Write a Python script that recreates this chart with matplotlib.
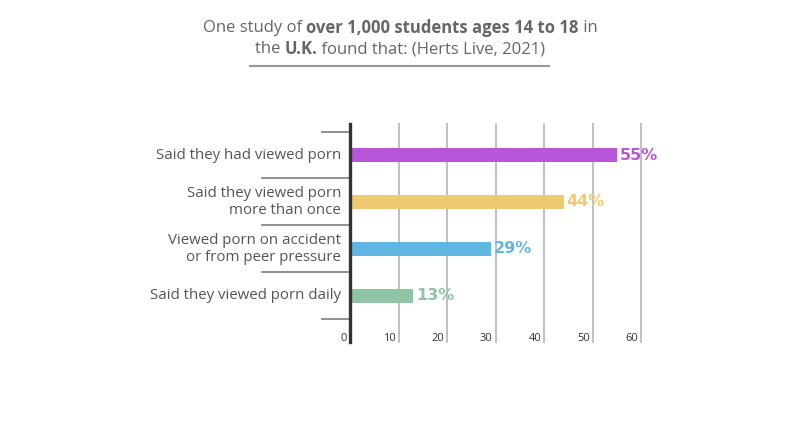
import matplotlib
matplotlib.use('Agg')
import matplotlib.pyplot as plt
import matplotlib.transforms as mtransforms

plt.rcParams['font.family'] = ['Open Sans', 'DejaVu Sans']

# Data
categories = ['Said they had viewed porn',
              'Said they viewed porn\nmore than once',
              'Viewed porn on accident\nor from peer pressure',
              'Said they viewed porn daily']
values = [55, 44, 29, 13]
bar_colors = ['#B955D9', '#F0CA72', '#62B6E2', '#8FC4A5']
x_ticks = [0, 10, 20, 30, 40, 50, 60]

title_lines = [
    [('One study of ', 'normal'), ('over 1,000 students ages 14 to 18', 'bold'), (' in', 'normal')],
    [('the ', 'normal'), ('U.K.', 'bold'), (' found that: (Herts Live, 2021)', 'normal')],
]

fig = plt.figure(figsize=(8, 4.4), dpi=100)
ax = fig.add_axes([0.4375, 0.2227, 0.364, 0.4955])

y = list(range(len(categories)))
ax.barh(y, values, height=0.3, color=bar_colors, zorder=3)
ax.set_xlim(0, 60)
ax.set_ylim(3.98, -0.66)

# gridlines
for t in x_ticks[1:]:
    ax.axvline(t, color='#BBBBBB', lw=1.3, zorder=1, clip_on=False)

for s in ['top', 'right', 'bottom']:
    ax.spines[s].set_visible(False)
ax.spines['left'].set_color('#333333')
ax.spines['left'].set_linewidth(2.4)
ax.spines['left'].set_zorder(4)
ax.set_xticks([])
ax.set_yticks([])

# x tick labels just left of each gridline
tr_x = mtransforms.blended_transform_factory(ax.transData, ax.transAxes)
offset = mtransforms.offset_copy(tr_x, fig=fig, x=-3, y=0, units='dots')
for t in x_ticks:
    ax.text(t, 0.018, str(t), transform=offset, ha='right', va='center',
            fontsize=8, color='#333333')

# category labels
tr_y = mtransforms.blended_transform_factory(ax.transAxes, ax.transData)
lab_off = mtransforms.offset_copy(tr_y, fig=fig, x=-9, y=0, units='dots')
for yi, c in zip(y, categories):
    ax.text(0, yi, c, transform=lab_off, ha='right', va='center',
            fontsize=10.8, color='#555555', linespacing=1.2, multialignment='right')

# band separators
for i, b in enumerate([-0.5, 0.5, 1.5, 2.5, 3.5]):
    x0 = -0.096 if i in (0, 4) else -0.302
    ax.plot([x0, 0], [b, b], transform=tr_y, color='#888888', lw=1.3, clip_on=False)

# value labels
for yi, v, col in zip(y, values, bar_colors):
    ax.annotate(f'{v}%', (v, yi), xytext=(2, 0), textcoords='offset points',
                ha='left', va='center', fontsize=11.5, fontweight='bold', color=col,
                family='DejaVu Sans')

# title with mixed weights
fig.canvas.draw()
renderer = fig.canvas.get_renderer()
for li, (parts, ypx) in enumerate(zip(title_lines, [28, 49])):
    texts = []
    for s, w in parts:
        texts.append(fig.text(0, 1 - ypx / 440, s, fontsize=12, fontweight=w,
                              color='#666666', va='center', ha='left'))
    widths = [t.get_window_extent(renderer).width for t in texts]
    total = sum(widths)
    xpos = 400 - total / 2
    for t, wdt in zip(texts, widths):
        t.set_x(xpos / 800)
        xpos += wdt
fig.add_artist(plt.Line2D([250 / 800, 549 / 800], [1 - 66 / 440] * 2,
                          color='#999999', lw=1.5))

fig.savefig('out.png', dpi=100)
